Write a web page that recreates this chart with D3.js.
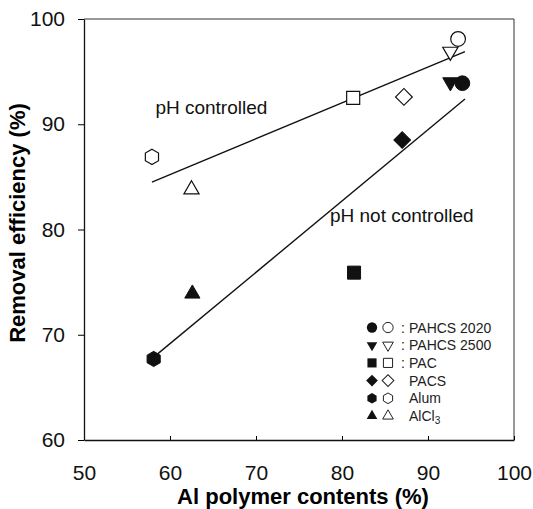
<!DOCTYPE html>
<html>
<head>
<meta charset="utf-8">
<script src="https://cdn.jsdelivr.net/npm/d3@7"></script>
<style>
  body { margin: 0; background: #fff; }
  svg { display: block; font-family: "Liberation Sans", Arial, sans-serif; }
</style>
</head>
<body>
<svg id="chart" width="533" height="509"></svg>
<script>
// coagulant names, as in the legend
var coagulants = ["PAHCS 2020", "PAHCS 2500", "PAC", "PACS", "Alum", "AlCl3"];
// Al polymer contents (%) of each coagulant
var alContentOpen   = [93.5, 92.6, 81.3, 87.2, 57.9, 62.5];
var alContentFilled = [94.0, 92.6, 81.4, 87.0, 58.1, 62.6];
// removal efficiency (%), pH controlled (open) and not controlled (filled)
var effControlled    = [98.1, 96.9, 92.5, 92.6, 86.9, 83.8];
var effNotControlled = [93.9, 94.0, 75.9, 88.5, 67.7, 73.9];
// fitted lines, end points [x, y]
var lineControlled    = [[57.9, 84.5], [94.3, 96.9]];
var lineNotControlled = [[58.0, 67.8], [94.3, 92.4]];
var xTicks = [50, 60, 70, 80, 90, 100];
var yTicks = [60, 70, 80, 90, 100];

var svg = d3.select("#chart");
var x = d3.scaleLinear().domain([50, 100]).range([84, 514]);
var y = d3.scaleLinear().domain([60, 100]).range([440, 19]);

// hexagon, pointy top
function hexagon(r) {
  var p = d3.path();
  for (var k = 0; k < 6; k++) {
    var a = Math.PI / 3 * k - Math.PI / 2;
    var px = r * Math.cos(a), py = r * Math.sin(a);
    if (k == 0) p.moveTo(px, py); else p.lineTo(px, py);
  }
  p.closePath();
  return p.toString();
}

// shape for each coagulant, scale s = 1 for the plot
function shapePath(i, s) {
  switch (i) {
    case 0: return d3.symbol(d3.symbolCircle, 170 * s * s)();
    case 1: return d3.symbol(d3.symbolTriangle, 100 * s * s)();
    case 2: return d3.symbol(d3.symbolSquare, 170 * s * s)();
    case 3: return d3.symbol(d3.symbolSquare, 140 * s * s)();
    case 4: return hexagon(7.6 * s);
    case 5: return d3.symbol(d3.symbolTriangle, 100 * s * s)();
  }
}
function shapeRot(i) {
  return i == 1 ? 180 : (i == 3 ? 45 : 0);
}

// frame (top and right)
svg.append("path")
  .attr("d", "M" + x(50) + "," + y(100) + "H" + x(100) + "V" + y(60))
  .attr("fill", "none")
  .attr("stroke", "#333")
  .attr("stroke-width", 1);

// x axis, ticks pointing in
var xAxis = svg.append("g")
  .attr("transform", "translate(0," + y(60) + ")")
  .call(d3.axisBottom(x).tickValues(xTicks).tickSizeInner(-4).tickSizeOuter(0).tickPadding(25));
xAxis.select(".domain").attr("stroke", "#111").attr("stroke-width", 1.3);
xAxis.selectAll("text").attr("font-size", 21).attr("fill", "#111").attr("font-family", "Liberation Sans, Arial, sans-serif");

// y axis, ticks pointing out
var yAxis = svg.append("g")
  .attr("transform", "translate(" + x(50) + ",0)")
  .call(d3.axisLeft(y).tickValues(yTicks).tickSizeInner(6).tickSizeOuter(0).tickPadding(13));
yAxis.select(".domain").attr("stroke", "#111").attr("stroke-width", 1.3);
yAxis.selectAll("text").attr("font-size", 21).attr("fill", "#111").attr("font-family", "Liberation Sans, Arial, sans-serif");

// axis titles
svg.append("text")
  .attr("x", 303).attr("y", 504)
  .attr("text-anchor", "middle")
  .attr("font-size", 22).attr("font-weight", "bold")
  .text("Al polymer contents (%)");

svg.append("text")
  .attr("transform", "translate(25,223) rotate(-90)")
  .attr("text-anchor", "middle")
  .attr("font-size", 22).attr("font-weight", "bold")
  .text("Removal efficiency (%)");

// fitted lines
var line = d3.line().x(function(d) { return x(d[0]); }).y(function(d) { return y(d[1]); });
[lineControlled, lineNotControlled].forEach(function(l) {
  svg.append("path")
    .attr("d", line(l))
    .attr("fill", "none")
    .attr("stroke", "#111")
    .attr("stroke-width", 1.4);
});

// line labels
svg.append("text")
  .attr("x", x(58.3)).attr("y", y(91.0))
  .attr("font-size", 19).attr("fill", "#111")
  .text("pH controlled");
svg.append("text")
  .attr("x", x(78.6)).attr("y", y(80.7))
  .attr("font-size", 19).attr("fill", "#111")
  .text("pH not controlled");

// points
var pts = svg.append("g");
coagulants.forEach(function(name, i) {
  pts.append("path")
    .attr("d", shapePath(i, 1))
    .attr("transform", "translate(" + x(alContentOpen[i]) + "," + y(effControlled[i]) + ") rotate(" + shapeRot(i) + ")")
    .attr("fill", "#fff")
    .attr("stroke", "#111")
    .attr("stroke-width", 1.2);
  pts.append("path")
    .attr("d", shapePath(i, 1))
    .attr("transform", "translate(" + x(alContentFilled[i]) + "," + y(effNotControlled[i]) + ") rotate(" + shapeRot(i) + ")")
    .attr("fill", "#111")
    .attr("stroke", "#111")
    .attr("stroke-width", 1);
});

// legend
var legend = svg.append("g");
coagulants.forEach(function(name, i) {
  var ly = 327.5 + i * 17.7;
  legend.append("path")
    .attr("d", shapePath(i, 0.7))
    .attr("transform", "translate(372," + ly + ") rotate(" + shapeRot(i) + ")")
    .attr("fill", "#111");
  legend.append("path")
    .attr("d", shapePath(i, 0.7))
    .attr("transform", "translate(388," + ly + ") rotate(" + shapeRot(i) + ")")
    .attr("fill", "#fff")
    .attr("stroke", "#222")
    .attr("stroke-width", 1);
  if (i < 3) {
    legend.append("text")
      .attr("x", 401).attr("y", ly + 5)
      .attr("font-size", 14).attr("fill", "#222")
      .text(":");
  }
  var t = legend.append("text")
    .attr("x", 409).attr("y", ly + 5)
    .attr("font-size", 14).attr("fill", "#222");
  if (name == "AlCl3") {
    t.text("AlCl");
    t.append("tspan").attr("font-size", 10).attr("dy", 3).text("3");
  } else {
    t.text(name);
  }
});
</script>
</body>
</html>
